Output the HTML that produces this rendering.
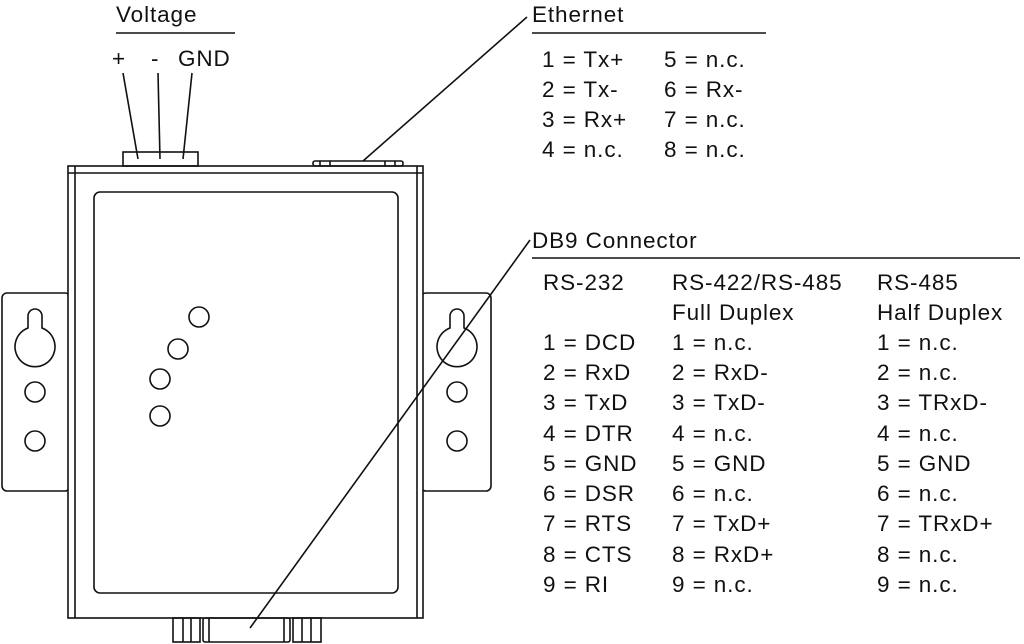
<!DOCTYPE html>
<html><head><meta charset="utf-8"><style>
html,body{margin:0;padding:0;background:#fff;}
svg{display:block;}
text{font-family:"Liberation Sans",Arial,sans-serif;font-size:22.5px;letter-spacing:0.9px;fill:#111;}
</style></head><body>
<svg width="1024" height="644" viewBox="0 0 1024 644" xmlns="http://www.w3.org/2000/svg">
<g fill="none" stroke="#111" stroke-width="1.6">
<rect x="2" y="293" width="68" height="198" rx="5"/>
<rect x="421" y="293" width="70" height="198" rx="5"/>
<rect x="68" y="166" width="355" height="452" fill="#fff"/>
<line x1="75" y1="166" x2="75" y2="618"/>
<line x1="417" y1="166" x2="417" y2="618"/>
<line x1="68" y1="173" x2="423" y2="173"/>
<rect x="94" y="192" width="304" height="401" rx="6"/>
<path d="M28 328 L28 316 A7 7 0 0 1 42 316 L42 328 A20 20 0 1 1 28 328 Z"/>
<path d="M450 328 L450 316 A7 7 0 0 1 464 316 L464 328 A20 20 0 1 1 450 328 Z"/>
<circle cx="35" cy="392" r="10"/><circle cx="35" cy="441" r="10"/>
<circle cx="457" cy="392" r="10"/><circle cx="457" cy="441" r="10"/>
<circle cx="199" cy="317" r="10"/><circle cx="178" cy="349" r="10"/>
<circle cx="160" cy="379" r="10"/><circle cx="160" cy="416" r="10"/>
<rect x="123" y="152" width="75" height="14"/>
<rect x="313" y="161" width="90" height="5" rx="2"/>
<line x1="320" y1="161" x2="320" y2="166"/><line x1="330" y1="161" x2="330" y2="166"/>
<line x1="385" y1="161" x2="385" y2="166"/><line x1="395" y1="161" x2="395" y2="166"/>
<rect x="173" y="618" width="27" height="24"/>
<line x1="183" y1="618" x2="183" y2="642"/><line x1="191" y1="618" x2="191" y2="642"/>
<rect x="203" y="618" width="87" height="24" rx="2"/>
<line x1="209" y1="618" x2="209" y2="642"/><line x1="284" y1="618" x2="284" y2="642"/>
<rect x="293" y="618" width="28" height="24"/>
<line x1="302" y1="618" x2="302" y2="642"/><line x1="311" y1="618" x2="311" y2="642"/>
<line x1="123" y1="73" x2="138" y2="159"/>
<line x1="158" y1="73" x2="160" y2="159"/>
<line x1="192" y1="73" x2="183" y2="159"/>
<line x1="116" y1="33" x2="235" y2="33"/>
<line x1="363" y1="161" x2="527" y2="17"/>
<line x1="532" y1="33" x2="766" y2="33"/>
<line x1="250" y1="628" x2="530" y2="240"/>
<line x1="532" y1="258" x2="1020" y2="258"/>
</g>
<text x="116" y="22">Voltage</text>
<text x="112" y="66">+</text>
<text x="151" y="66">-</text>
<text x="178" y="66">GND</text>
<text x="532" y="22">Ethernet</text>
<text x="542" y="67">1 = Tx+</text><text x="664" y="67">5 = n.c.</text>
<text x="542" y="97">2 = Tx-</text><text x="664" y="97">6 = Rx-</text>
<text x="542" y="127">3 = Rx+</text><text x="664" y="127">7 = n.c.</text>
<text x="542" y="157">4 = n.c.</text><text x="664" y="157">8 = n.c.</text>
<text x="532" y="248">DB9 Connector</text>
<text x="543" y="290">RS-232</text><text x="672" y="290">RS-422/RS-485</text><text x="877" y="290">RS-485</text>
<text x="672" y="320">Full Duplex</text><text x="877" y="320">Half Duplex</text>
<text x="543" y="350">1 = DCD</text><text x="672" y="350">1 = n.c.</text><text x="877" y="350">1 = n.c.</text>
<text x="543" y="380">2 = RxD</text><text x="672" y="380">2 = RxD-</text><text x="877" y="380">2 = n.c.</text>
<text x="543" y="410">3 = TxD</text><text x="672" y="410">3 = TxD-</text><text x="877" y="410">3 = TRxD-</text>
<text x="543" y="441">4 = DTR</text><text x="672" y="441">4 = n.c.</text><text x="877" y="441">4 = n.c.</text>
<text x="543" y="471">5 = GND</text><text x="672" y="471">5 = GND</text><text x="877" y="471">5 = GND</text>
<text x="543" y="501">6 = DSR</text><text x="672" y="501">6 = n.c.</text><text x="877" y="501">6 = n.c.</text>
<text x="543" y="531">7 = RTS</text><text x="672" y="531">7 = TxD+</text><text x="877" y="531">7 = TRxD+</text>
<text x="543" y="562">8 = CTS</text><text x="672" y="562">8 = RxD+</text><text x="877" y="562">8 = n.c.</text>
<text x="543" y="592">9 = RI</text><text x="672" y="592">9 = n.c.</text><text x="877" y="592">9 = n.c.</text>
</svg>
</body></html>
